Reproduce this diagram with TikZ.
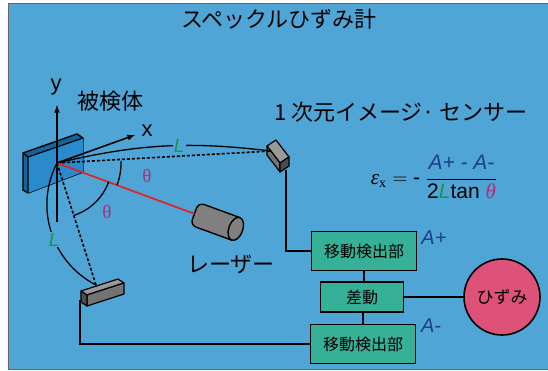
\documentclass[tikz,border=0pt]{standalone}
\usepackage{fontspec}
\setmainfont{Liberation Sans}
\newfontfamily\jp{Noto Sans CJK JP}
\newfontfamily\serif{Liberation Serif}
\definecolor{panel}{HTML}{50A5D7}
\definecolor{platefront}{HTML}{2A8ACC}
\definecolor{plateside}{HTML}{14649E}
\definecolor{boxgreen}{HTML}{36B096}
\definecolor{strainpink}{HTML}{DE5279}
\definecolor{Lgreen}{HTML}{129A48}
\definecolor{thetacol}{HTML}{B02C7C}
\definecolor{Ablue}{HTML}{1C3E8E}
\definecolor{beam}{HTML}{E0242A}

\begin{document}
\begin{tikzpicture}[
		x=1pt, y=-1pt,
		wire/.style={line width=1.6pt},
		detbox/.style={draw, line width=1.6pt, fill=boxgreen, minimum width=105pt, minimum height=39pt,
				font=\jp\fontsize{16}{18}\selectfont},
		jlabel/.style={font=\jp\fontsize{22}{24}\selectfont},
		Llabel/.style={fill=panel, inner sep=1pt, text=Lgreen, font=\fontsize{19}{20}\selectfont\itshape},
		thetalabel/.style={text=thetacol, font=\serif\fontsize{19}{20}\selectfont},
		Alabel/.style={text=Ablue, font=\fontsize{20}{22}\selectfont\itshape}
	]
	\useasboundingbox (0,0) rectangle (548,371);
	\fill[white] (0,0) rectangle (548,371);
	\fill[panel] (8,3) rectangle (548,369);
	\draw[black!60, line width=0.8pt] (548,3) -- (8,3) -- (8,369) -- (548,369);

	\node[jlabel] (title) at (279,19) {スペックルひずみ計};

	% test object (plate)
	\coordinate (O) at (57,163);
	\filldraw[fill=plateside, line width=1.4pt, line join=round]
	(23,153) -- (77,134) -- (83,138) -- (83,172) -- (28,193) -- (23,190) -- cycle;
	\fill[platefront] (28,157) -- (83,138) -- (83,172) -- (28,193) -- cycle;
	\draw[line width=1.2pt, line join=round] (23,153) -- (28,157) -- (83,138) (28,157) -- (28,193);

	\node[font=\fontsize{22}{24}\selectfont] (ylab) at (56,87) {y};
	\node[font=\fontsize{22}{24}\selectfont] (xlab) at (147,131) {x};
	\node[jlabel] (obj) at (110,101) {被検体};
	\coordinate (ybase) at (57,222);
	\coordinate (ytip) at (57,105);
	\coordinate (xtip) at (135,135);
	\draw[wire, -latex] (ybase) -- (ytip);
	\draw[wire, -latex] (O) -- (xtip);

	% sensors
	\coordinate (s1) at (271,151);
	\coordinate (s2) at (96,285);
	\filldraw[fill=black!40, line width=1.2pt, line join=round] (267,146) -- (276,140) -- (289,157) -- (280,163) -- cycle;
	\filldraw[fill=black!55, line width=1.2pt, line join=round] (267,146) -- (280,163) -- (280,172) -- (267,155) -- cycle;
	\filldraw[fill=black!70, line width=1.2pt, line join=round] (280,163) -- (289,157) -- (289,166) -- (280,172) -- cycle;
	\filldraw[fill=black!40, line width=1.2pt, line join=round] (81,291) -- (118,279) -- (124,283) -- (87,295) -- cycle;
	\filldraw[fill=black!55, line width=1.2pt, line join=round] (87,295) -- (124,283) -- (124,294) -- (87,306) -- cycle;
	\filldraw[fill=black!70, line width=1.2pt, line join=round] (81,291) -- (87,295) -- (87,306) -- (81,302) -- cycle;

	% laser
	\begin{scope}[shift={(217,222)}, rotate=-20]
		\filldraw[fill=black!50, line width=1.4pt]
		(20,-12) [rounded corners=6pt] -- (-24,-12) -- (-24,12) [sharp corners] -- (20,12) -- cycle;
		\filldraw[fill=black!50, line width=1.4pt] (20,0) ellipse [x radius=7, y radius=12];
		\coordinate (laser) at (-24,0);
	\end{scope}
	\node[jlabel] (laserlab) at (231,264) {レーザー};

	\draw[wire, dash pattern=on 3pt off 2pt] (O) -- (s1);
	\draw[wire, dash pattern=on 3pt off 2pt] (O) -- (s2);
	\draw[beam, line width=1.8pt] (O) -- (laser);

	\draw[line width=1.3pt] (O) to[bend left=10] node[Llabel, pos=0.58] (Ltop) {L} (s1);
	\draw[line width=1.3pt] (O) to[bend right=45] node[Llabel, pos=0.56] (Lside) {L} (s2);

	\draw[line width=1.3pt] ([shift={(2:64pt)}]O) arc[start angle=2, end angle=-20, radius=64pt];
	\draw[line width=1.3pt] ([shift={(-20:55pt)}]O) arc[start angle=-20, end angle=-72, radius=55pt];
	\node[thetalabel] (th1) at (147,176) {θ};
	\node[thetalabel] (th2) at (107,212) {θ};

	\node[jlabel] (sensorlab) at (401,112) {1 次元イメージ· センサー};

	\node[font=\fontsize{21}{24}\selectfont] (eq) at (434,177)
	{$\mbox{\serif\itshape ε}_{\mbox{\serif\fontsize{14}{15}\selectfont x}} = \mbox{-}\;\displaystyle\frac{\mbox{\color{Ablue}\itshape A+ - A-}}
			{\mbox{2\textcolor{Lgreen}{\itshape L}tan \textcolor{thetacol}{\serif\itshape θ}}}$};

	% detection chain
	\node[detbox] (det1) at (364,251) {移動検出部};
	\node[detbox, minimum width=83pt, minimum height=30pt] (diff) at (362,297) {差動};
	\node[detbox] (det2) at (363,344) {移動検出部};
	\node[circle, draw, line width=1.6pt, fill=strainpink, minimum size=76pt,
		font=\jp\fontsize{17}{18}\selectfont] (strain) at (502,297) {ひずみ};
	\node[Alabel] (Aplus) at (434,238) {A+};
	\node[Alabel] (Aminus) at (431,326) {A-};

	\coordinate (s1out) at (286,170);
	\coordinate (s2out) at (80,300);
	\draw[wire] (s1out) |- (det1.west);
	\draw[wire] (s2out) |- (det2.west);
	\draw[wire] (det1.south) -- (det1.south |- diff.north);
	\draw[wire] (det2.north) -- (det2.north |- diff.south);
	\draw[wire] (diff) -- (strain);
\end{tikzpicture}
\end{document}
